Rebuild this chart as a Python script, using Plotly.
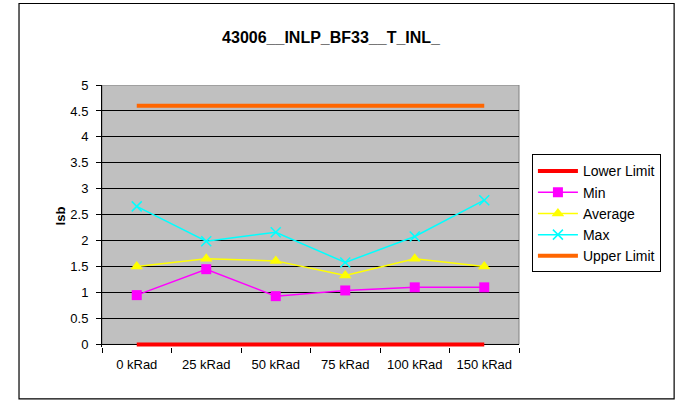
import plotly.graph_objects as go

categories = ["0 kRad", "25 kRad", "50 kRad", "75 kRad", "100 kRad", "150 kRad"]
lower_limit = [0, 0, 0, 0, 0, 0]
min_vals = [0.95, 1.45, 0.93, 1.04, 1.10, 1.10]
avg_vals = [1.50, 1.65, 1.61, 1.33, 1.65, 1.50]
max_vals = [2.66, 1.99, 2.16, 1.58, 2.08, 2.78]
upper_limit = [4.6, 4.6, 4.6, 4.6, 4.6, 4.6]

FONT = "Liberation Sans, Arial, sans-serif"

fig = go.Figure()
fig.add_trace(go.Scatter(x=categories, y=lower_limit, name="Lower Limit", mode="lines",
                         line=dict(color="#FF0000", width=4), legendgroup="a"))
fig.add_trace(go.Scatter(x=categories, y=min_vals, name="Min", mode="lines+markers",
                         line=dict(color="#FF00FF", width=1.5),
                         marker=dict(symbol="square", size=10, color="#FF00FF"), legendgroup="b"))
fig.add_trace(go.Scatter(x=categories, y=avg_vals, name="Average", mode="lines+markers",
                         line=dict(color="#FFFF00", width=1.5),
                         marker=dict(symbol="triangle-up", size=11, color="#FFFF00"), legendgroup="c"))
fig.add_trace(go.Scatter(x=categories, y=max_vals, name="Max", mode="lines+markers",
                         line=dict(color="#00FFFF", width=1.5),
                         marker=dict(symbol="x-thin", size=10, color="#00FFFF",
                                     line=dict(color="#00FFFF", width=1.5)), legendgroup="d"))
fig.add_trace(go.Scatter(x=categories, y=upper_limit, name="Upper Limit", mode="lines",
                         line=dict(color="#FF6600", width=4), legendgroup="e"))

# grey plot area background (only from 0 to 5)
fig.add_shape(type="rect", xref="x domain", yref="y", x0=0, x1=1, y0=0, y1=5,
              fillcolor="#C0C0C0", line=dict(color="#808080", width=1), layer="below")
# outer chart border
fig.add_shape(type="rect", xref="paper", yref="paper", x0=-0.199, x1=1.372, y0=-0.198, y1=1.311,
              line=dict(color="black", width=1.2), fillcolor="rgba(0,0,0,0)", layer="above")

fig.update_layout(
    width=677, height=400,
    margin=dict(l=102, r=158, t=85, b=53),
    paper_bgcolor="white", plot_bgcolor="white",
    font=dict(family=FONT, size=13, color="black"),
    title=dict(text="<b>43006__INLP_BF33__T_INL_</b>", x=0.489, xanchor="center",
               xref="container", y=0.9075, yref="container", yanchor="middle",
               font=dict(size=16, family=FONT, color="black")),
    showlegend=True,
    legend=dict(x=1.031, y=0.735, xanchor="left", yanchor="top",
                bordercolor="black", borderwidth=1, bgcolor="white",
                font=dict(size=14, family=FONT), itemwidth=40, tracegroupgap=5,
                traceorder="normal"),
)
fig.update_xaxes(type="category", range=[-0.5, 5.5], tickson="boundaries", ticks="outside", ticklen=5,
                 tickcolor="black", showline=False, showgrid=False, zeroline=False,
                 ticklabelstandoff=8, tickfont=dict(size=13, family=FONT))
fig.update_yaxes(range=[-0.05, 5], dtick=0.5, tick0=0, ticks="outside", ticklen=5,
                 tickcolor="black", showline=True, linecolor="black", linewidth=1,
                 showgrid=True, gridcolor="black", gridwidth=1,
                 zeroline=True, zerolinecolor="black", zerolinewidth=1,
                 ticklabelstandoff=5,
                 title=dict(text="<b>lsb</b>", standoff=1, font=dict(size=13, family=FONT)),
                 tickfont=dict(size=13, family=FONT))

fig.write_html("out.html", config={"displayModeBar": False},
               post_script="document.body.style.margin='0px';document.body.style.overflow='hidden';")
